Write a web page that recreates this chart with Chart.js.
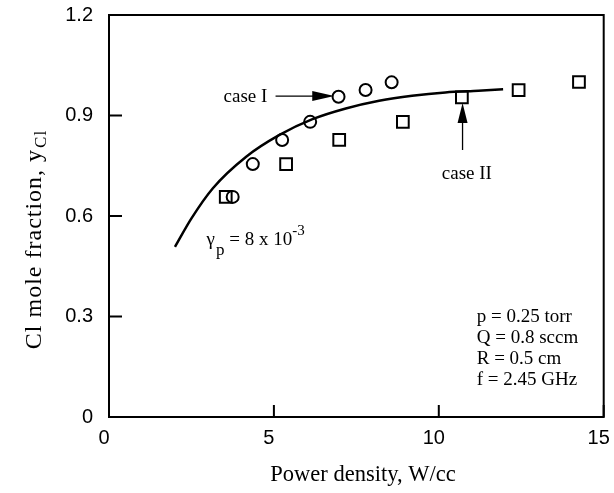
<!DOCTYPE html>
<html>
<head>
<meta charset="utf-8">
<script src="https://cdn.jsdelivr.net/npm/chart.js@4/dist/chart.umd.min.js"></script>
<style>
  body { margin: 0; background: #fff; }
  #wrap { width: 614px; height: 493px; }
</style>
</head>
<body>
<div id="wrap"><canvas id="chart" width="614" height="493"></canvas></div>
<script>
// Measured points (case I = circles, case II = squares)
var circleX = [3.75, 4.36, 5.25, 6.10, 6.96, 7.78, 8.57];
var circleY = [0.657, 0.755, 0.827, 0.881, 0.956, 0.976, 0.999];
var squareX = [3.54, 5.37, 6.98, 8.91, 10.70, 12.42, 14.25];
var squareY = [0.657, 0.755, 0.827, 0.881, 0.954, 0.976, 1.0];

// Model curve
var curveX = [2.0, 2.5, 3.15, 4.16, 5.17, 6.17, 7.18, 8.19, 9.19, 10.2, 11.2, 11.95];
var curveY = [0.508, 0.593, 0.683, 0.777, 0.842, 0.889, 0.921, 0.944, 0.959, 0.969, 0.974, 0.978];

// Axis ticks
var xTicks = [0, 5, 10, 15];
var yTicks = [0, 0.3, 0.6, 0.9, 1.2];

var paramLines = ['p = 0.25 torr', 'Q = 0.8 sccm', 'R = 0.5 cm', 'f = 2.45 GHz'];

var serif = "'Liberation Serif', 'Times New Roman', serif";
var sans = "'Liberation Sans', Arial, sans-serif";

function toPoints(xs, ys) {
    var pts = [];
    for (var i = 0; i < xs.length; i++) {
        pts.push({ x: xs[i], y: ys[i] });
    }
    return pts;
}

// Draws the frame, inward ticks, axis titles and the text notes
var notesPlugin = {
    id: 'notes',
    afterDraw: function(chart) {
        var ctx = chart.ctx;
        var xs = chart.scales.x;
        var ys = chart.scales.y;
        var area = chart.chartArea;
        var px = function(v) { return xs.getPixelForValue(v); };
        var py = function(v) { return ys.getPixelForValue(v); };

        ctx.save();
        ctx.strokeStyle = '#000';
        ctx.fillStyle = '#000';

        // frame
        ctx.lineWidth = 2;
        ctx.strokeRect(area.left, area.top, area.right - area.left, area.bottom - area.top);

        // inward ticks
        ctx.beginPath();
        xTicks.forEach(function(t) {
            ctx.moveTo(px(t), area.bottom);
            ctx.lineTo(px(t), area.bottom - 12);
        });
        yTicks.forEach(function(t) {
            ctx.moveTo(area.left, py(t));
            ctx.lineTo(area.left + 13, py(t));
        });
        ctx.stroke();

        // x title
        ctx.font = '22.5px ' + serif;
        ctx.textAlign = 'center';
        ctx.textBaseline = 'middle';
        ctx.fillText('Power density, W/cc', 363, 475);

        // y title with subscript
        ctx.save();
        ctx.translate(35, 240);
        ctx.rotate(-Math.PI / 2);
        ctx.letterSpacing = '1px';
        ctx.font = '24px ' + serif;
        var main = 'Cl mole fraction, y';
        var w1 = ctx.measureText(main).width;
        ctx.font = '17px ' + serif;
        var w2 = ctx.measureText('Cl').width;
        var start = -(w1 + w2) / 2;
        ctx.textAlign = 'left';
        ctx.font = '24px ' + serif;
        ctx.fillText(main, start, 0);
        ctx.font = '17px ' + serif;
        ctx.fillText('Cl', start + w1 + 1, 7);
        ctx.restore();

        // case I label and arrow
        ctx.font = '19px ' + serif;
        ctx.textAlign = 'right';
        ctx.fillText('case I', px(4.8), py(0.955));
        var ay = py(0.958);
        ctx.lineWidth = 1.3;
        ctx.beginPath();
        ctx.moveTo(px(5.05), ay);
        ctx.lineTo(px(6.83) - 18, ay);
        ctx.stroke();
        ctx.beginPath();
        ctx.moveTo(px(6.83), ay);
        ctx.lineTo(px(6.83) - 22, ay - 5);
        ctx.lineTo(px(6.83) - 22, ay + 5);
        ctx.closePath();
        ctx.fill();

        // case II label and arrow
        ctx.textAlign = 'center';
        ctx.fillText('case II', px(10.85), py(0.725));
        var ax = px(10.72);
        var tip = py(0.937);
        ctx.beginPath();
        ctx.moveTo(ax, py(0.797));
        ctx.lineTo(ax, tip + 16);
        ctx.stroke();
        ctx.beginPath();
        ctx.moveTo(ax, tip);
        ctx.lineTo(ax - 5, tip + 20);
        ctx.lineTo(ax + 5, tip + 20);
        ctx.closePath();
        ctx.fill();

        // gamma_p = 8 x 10^-3
        var gx = px(2.96);
        var gy = py(0.528);
        ctx.textAlign = 'left';
        ctx.font = '19px ' + serif;
        ctx.fillText('\u03b3', gx, gy);
        var gw = ctx.measureText('\u03b3').width;
        ctx.font = '17px ' + serif;
        ctx.fillText('p', gx + gw + 1, gy + 10);
        var pw = ctx.measureText('p').width;
        ctx.font = '19px ' + serif;
        var eq = ' = 8 x 10';
        ctx.fillText(eq, gx + gw + pw + 1, gy);
        var ew = ctx.measureText(eq).width;
        ctx.font = '15px ' + serif;
        ctx.fillText('-3', gx + gw + pw + ew + 1, gy - 9);

        // run conditions
        ctx.font = '19px ' + serif;
        var lineY = [0.2985, 0.236, 0.173, 0.110];
        paramLines.forEach(function(txt, i) {
            ctx.fillText(txt, px(11.15), py(lineY[i]));
        });

        ctx.restore();
    }
};

var chart = new Chart(document.getElementById('chart'), {
    type: 'scatter',
    data: {
        datasets: [
            {
                label: 'model',
                data: toPoints(curveX, curveY),
                showLine: true,
                borderColor: '#000',
                borderWidth: 2.5,
                pointRadius: 0,
                cubicInterpolationMode: 'monotone',
                fill: false
            },
            {
                label: 'case I',
                data: toPoints(circleX, circleY),
                pointStyle: 'circle',
                pointRadius: 6,
                pointBorderWidth: 2,
                pointBorderColor: '#000',
                pointBackgroundColor: 'rgba(0,0,0,0)'
            },
            {
                label: 'case II',
                data: toPoints(squareX, squareY),
                pointStyle: 'rect',
                pointRadius: 8.3,
                pointBorderWidth: 2,
                pointBorderColor: '#000',
                pointBackgroundColor: 'rgba(0,0,0,0)'
            }
        ]
    },
    options: {
        responsive: false,
        animation: false,
        devicePixelRatio: 1,
        layout: { padding: { left: 0, top: 15, right: 9, bottom: 0 } },
        plugins: {
            legend: { display: false },
            tooltip: { enabled: false }
        },
        scales: {
            x: {
                type: 'linear',
                min: 0,
                max: 15,
                // fixed box, no extra room for the end labels
                afterFit: function(scale) {
                    scale.height = 76;
                    scale.paddingLeft = 0;
                    scale.paddingRight = 0;
                },
                afterBuildTicks: function(scale) {
                    scale.ticks = xTicks.map(function(v) { return { value: v }; });
                },
                ticks: {
                    padding: 9,
                    labelOffset: -5,
                    color: '#000',
                    font: { family: sans, size: 20 }
                },
                grid: { display: false, drawTicks: false },
                border: { display: false }
            },
            y: {
                min: 0,
                max: 1.2,
                afterFit: function(scale) {
                    scale.width = 109;
                    scale.paddingTop = 0;
                    scale.paddingBottom = 0;
                },
                afterBuildTicks: function(scale) {
                    scale.ticks = yTicks.map(function(v) { return { value: v }; });
                },
                ticks: {
                    padding: 16,
                    color: '#000',
                    font: { family: sans, size: 20 },
                    callback: function(v) { return String(v); }
                },
                grid: { display: false, drawTicks: false },
                border: { display: false }
            }
        }
    },
    plugins: [notesPlugin]
});
</script>
</body>
</html>
